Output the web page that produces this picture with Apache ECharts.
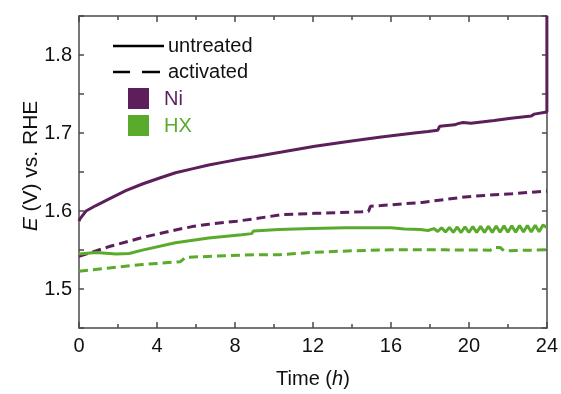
<!DOCTYPE html>
<html>
<head>
<meta charset="utf-8">
<script src="https://cdn.jsdelivr.net/npm/echarts@6/dist/echarts.min.js"></script>
<style>
html,body{margin:0;padding:0;background:#fff;}
#chart{width:561px;height:394px;}
</style>
</head>
<body>
<div id="chart"></div>
<script>
// ---- data ----
const xTicks = [0, 4, 8, 12, 16, 20, 24];
const yTicks = [1.5, 1.6, 1.7, 1.8];

const niUntreatedT = [0, 0.05, 0.36, 0.87, 1.55, 2.4, 3.25, 4.1, 4.95, 5.8, 6.65, 7.5, 8.35, 9.0, 10.4, 12.1, 13.8, 15.5, 17.2, 17.9, 18.4, 18.5, 19.27, 19.44, 19.7, 20.1, 21.3, 22.16, 23.2, 23.35, 24.0, 24.0];
const niUntreated  = [1.587, 1.590, 1.600, 1.607, 1.6156, 1.626, 1.6346, 1.642, 1.649, 1.654, 1.659, 1.663, 1.667, 1.6696, 1.6756, 1.683, 1.689, 1.695, 1.700, 1.702, 1.7035, 1.7086, 1.7105, 1.712, 1.7135, 1.7125, 1.716, 1.719, 1.7218, 1.7242, 1.727, 1.85];

const niActivatedT = [0, 1.55, 3.25, 4.95, 5.8, 6.65, 8.1, 9.0, 10.4, 12.1, 14.5, 14.85, 14.95, 15.5, 17.6, 19.8, 20.8, 22.2, 23.7, 24];
const niActivated  = [1.5418, 1.5544, 1.566, 1.5757, 1.580, 1.583, 1.587, 1.590, 1.5953, 1.597, 1.599, 1.5995, 1.606, 1.607, 1.611, 1.618, 1.620, 1.622, 1.625, 1.6255];

const hxUntreatedT = [0, 0.87, 1.9, 2.57, 3.25, 4.95, 6.65, 8.35, 8.86, 8.95, 10.26, 11.95, 13.66, 16, 16.7, 17.5, 17.9,
  18.2, 18.4, 18.6, 18.8, 19.0, 19.2, 19.4, 19.6, 19.8, 20.0, 20.2, 20.4, 20.6, 20.8, 21.0, 21.2, 21.4, 21.6, 21.8, 22.0, 22.2, 22.4, 22.6, 22.8, 23.0, 23.2, 23.4, 23.6, 23.8, 24.0];
const hxUntreated  = [1.545, 1.5468, 1.545, 1.5456, 1.5498, 1.5594, 1.5654, 1.5696, 1.571, 1.5744, 1.5763, 1.5776, 1.5785, 1.5785, 1.5768, 1.5762, 1.5750,
  1.5775, 1.5738, 1.5785, 1.5730, 1.5790, 1.5726, 1.5795, 1.5724, 1.5798, 1.5724, 1.5800, 1.5724, 1.5803, 1.5725, 1.5805, 1.5726, 1.5807, 1.5727, 1.5809, 1.5728, 1.5811, 1.5729, 1.5813, 1.5730, 1.5815, 1.5732, 1.5817, 1.5734, 1.5819, 1.5790];

const hxActivatedT = [0, 1.55, 3.25, 4.95, 5.2, 5.46, 7.5, 9.0, 10.26, 12.04, 14, 16, 18.76, 21.1, 21.3, 21.6, 21.8, 24];
const hxActivated  = [1.5228, 1.527, 1.5313, 1.5346, 1.535, 1.5405, 1.5427, 1.544, 1.544, 1.547, 1.549, 1.5502, 1.5502, 1.5498, 1.5532, 1.5532, 1.549, 1.5502];

const seriesNames = ['Ni untreated', 'Ni activated', 'HX untreated', 'HX activated'];
const legendLabels = ['untreated', 'activated', 'Ni', 'HX'];

// ---- styling ----
const PURPLE = '#5c1f5c';
const GREEN = '#5aab2c';
const AXIS = '#4a4a4a';
const FONT = '"Liberation Sans", Arial, sans-serif';

function pairs(t, v) { return t.map((x, i) => [x, v[i]]); }

const chart = echarts.init(document.getElementById('chart'), null, {renderer: 'canvas'});

const xBase = {
  type: 'value', min: 0, max: 24, interval: 4,
  axisLine: {show: true, onZero: false, lineStyle: {color: AXIS, width: 1.5}},
  axisTick: {show: true, inside: true, length: 6, lineStyle: {color: AXIS, width: 1.5}},
  minorTick: {show: true, splitNumber: 2, length: 4, lineStyle: {color: AXIS, width: 1.5}},
  splitLine: {show: false}, minorSplitLine: {show: false}
};
const yBase = {
  type: 'value', min: 1.45, max: 1.85, interval: 0.05,
  axisLine: {show: true, onZero: false, lineStyle: {color: AXIS, width: 1.5}},
  axisTick: {show: true, inside: true, length: 5, lineStyle: {color: AXIS, width: 1.5}},
  splitLine: {show: false}
};

function line(name, t, v, color, dashed) {
  return {
    name: name, type: 'line', data: pairs(t, v), showSymbol: false, symbol: 'none',
    clip: true, animation: false,
    lineStyle: {color: color, width: 3, type: dashed ? [9, 5] : 'solid'},
    itemStyle: {color: color}
  };
}

const option = {
  animation: false,
  backgroundColor: '#fff',
  grid: {left: 79, right: 11, top: 16, bottom: 63, containLabel: false},
  xAxis: [
    Object.assign({}, xBase, {
      position: 'bottom',
      axisLabel: {show: true, margin: 8, fontSize: 20, color: '#111', fontFamily: FONT,
        formatter: v => xTicks.includes(v) ? String(v) : ''},
      name: 'Time ({i|h})', nameLocation: 'middle', nameGap: 41,
      nameTextStyle: {fontSize: 20, color: '#111', fontFamily: FONT,
        rich: {i: {fontSize: 20, fontStyle: 'italic', color: '#111', fontFamily: FONT}}}
    }),
    Object.assign({}, xBase, {position: 'top', axisLabel: {show: false}})
  ],
  yAxis: [
    Object.assign({}, yBase, {
      position: 'left',
      axisLabel: {show: true, margin: 7, fontSize: 20, color: '#111', fontFamily: FONT,
        formatter: v => {
          const r = Math.round(v * 100) / 100;
          return yTicks.some(t => Math.abs(t - r) < 1e-6) ? r.toFixed(1) : '';
        }}
    }),
    Object.assign({}, yBase, {position: 'right', axisLabel: {show: false}})
  ],
  series: [
    line(seriesNames[0], niUntreatedT, niUntreated, PURPLE, false),
    line(seriesNames[1], niActivatedT, niActivated, PURPLE, true),
    line(seriesNames[2], hxUntreatedT, hxUntreated, GREEN, false),
    line(seriesNames[3], hxActivatedT, hxActivated, GREEN, true)
  ],
  graphic: [
    {type: 'text', rotation: Math.PI / 2, x: 31, y: 166,
      style: {text: '{i|E} (V) vs. RHE', fontSize: 21, fill: '#111', fontFamily: FONT,
        align: 'center', verticalAlign: 'middle',
        rich: {i: {fontSize: 21, fontStyle: 'italic', fill: '#111', fontFamily: FONT}}}},
    {type: 'line', shape: {x1: 113, y1: 46, x2: 164, y2: 46}, style: {stroke: '#000', lineWidth: 2.5}},
    {type: 'line', shape: {x1: 113, y1: 72, x2: 130, y2: 72}, style: {stroke: '#000', lineWidth: 2.5}},
    {type: 'line', shape: {x1: 142, y1: 72, x2: 160, y2: 72}, style: {stroke: '#000', lineWidth: 2.5}},
    {type: 'text', x: 168, y: 46, style: {text: legendLabels[0], fontSize: 20, fill: '#111', fontFamily: FONT, verticalAlign: 'middle'}},
    {type: 'text', x: 168, y: 72, style: {text: legendLabels[1], fontSize: 20, fill: '#111', fontFamily: FONT, verticalAlign: 'middle'}},
    {type: 'rect', shape: {x: 128, y: 88, width: 21, height: 21}, style: {fill: PURPLE}},
    {type: 'rect', shape: {x: 128, y: 115, width: 21, height: 21}, style: {fill: GREEN}},
    {type: 'text', x: 164, y: 99, style: {text: legendLabels[2], fontSize: 20, fill: PURPLE, fontFamily: FONT, verticalAlign: 'middle'}},
    {type: 'text', x: 164, y: 126, style: {text: legendLabels[3], fontSize: 20, fill: GREEN, fontFamily: FONT, verticalAlign: 'middle'}}
  ]
};
chart.setOption(option);
</script>
</body>
</html>
